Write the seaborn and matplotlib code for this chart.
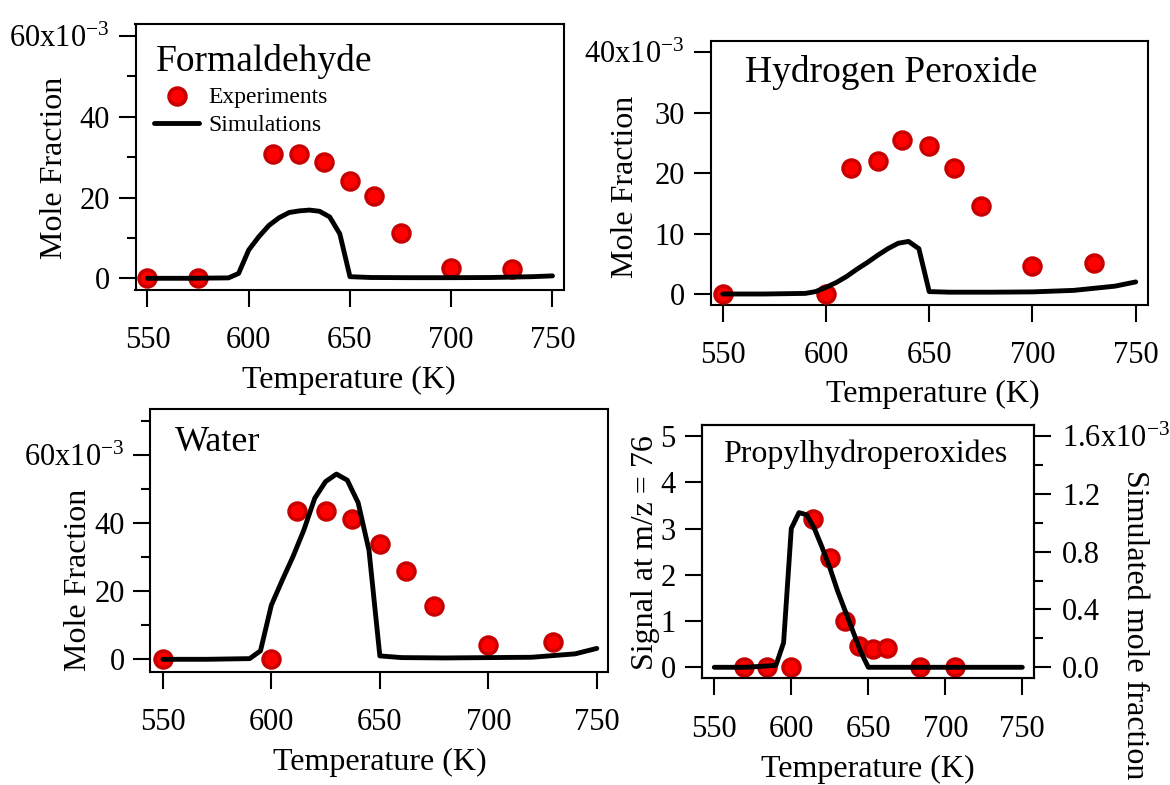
import matplotlib
matplotlib.use("Agg")
import matplotlib.pyplot as plt
from matplotlib.ticker import FixedLocator
import seaborn as sns

# ---------------- data ----------------
T_sim = [550, 570, 590, 595, 600, 605, 610, 615, 620, 625, 630, 635, 640, 645, 650,
         660, 680, 700, 720, 740, 750]
hcho_sim = [0, 0, 0.1, 1.2, 7.0, 10.3, 13.1, 15.0, 16.3, 16.7, 16.9, 16.6, 15.2, 11.0, 0.4,
            0.2, 0.15, 0.15, 0.2, 0.4, 0.6]
h2o2_sim = [0, 0, 0.1, 0.4, 1.1, 1.9, 2.9, 4.1, 5.2, 6.4, 7.5, 8.4, 8.7, 7.5, 0.4,
            0.3, 0.3, 0.35, 0.6, 1.3, 2.0]
h2o_sim = [0, 0, 0.2, 2.5, 15.9, 23.2, 30.2, 38.0, 47.3, 52.2, 54.4, 52.6, 46.0, 32.0, 1.0,
           0.5, 0.4, 0.5, 0.6, 1.6, 3.2]
php_sim = [0, 0, 0.013, 0.17, 0.96, 1.07, 1.055, 0.96, 0.83, 0.69, 0.53, 0.39, 0.25, 0.11, 0,
           0, 0, 0, 0, 0, 0]

T_hcho = [550, 575, 612, 625, 637, 650, 662, 675, 700, 730]
hcho_exp = [0, 0, 30.8, 30.9, 28.7, 24.1, 20.5, 11.2, 2.5, 2.2]
T_h2o2 = [550, 600, 612, 625, 637, 650, 662, 675, 700, 730]
h2o2_exp = [0, 0, 20.8, 22.0, 25.5, 24.5, 20.8, 14.6, 4.6, 5.2]
T_h2o = [550, 600, 612, 625, 637, 650, 662, 675, 700, 730]
h2o_exp = [0, 0, 43.6, 43.6, 41.1, 33.8, 26.0, 15.7, 4.1, 5.1]
T_php = [569, 584.5, 600, 614, 625, 635, 644, 653, 662, 683.5, 706.5]
php_exp = [0, 0, 0, 3.2, 2.37, 1.01, 0.46, 0.39, 0.41, 0, 0]

titles = ["Formaldehyde", "Hydrogen Peroxide", "Water", "Propylhydroperoxides"]
x_ticks = [550, 600, 650, 700, 750]
x_ticklabels = ["550", "600", "650", "700", "750"]
y1_ticks = [0, 20, 40, 60]
y1_labels = ["0", "20", "40", r"60x10$^{\mathregular{-3}}$"]
y1_minor = [10, 30, 50]
y2_ticks = [0, 10, 20, 30, 40]
y2_labels = ["0", "10", "20", "30", r"40x10$^{\mathregular{-3}}$"]
y3_ticks = [0, 20, 40, 60]
y3_labels = ["0", "20", "40", r"60x10$^{\mathregular{-3}}$"]
y3_minor = [10, 30, 50, 70]
y4_ticks = [0, 1, 2, 3, 4, 5]
y4_labels = ["0", "1", "2", "3", "4", "5"]
y4r_ticks = [0.0, 0.4, 0.8, 1.2, 1.6]
y4r_labels = ["0.0", "0.4", "0.8", "1.2", r"1.6x10$^{\mathregular{-3}}$"]
y4r_minor = [0.2, 0.6, 1.0, 1.4]

# ---------------- style ----------------
sns.set_style("ticks")
plt.rcParams["font.family"] = ["Liberation Serif", "DejaVu Serif"]
plt.rcParams["mathtext.fontset"] = "custom"
plt.rcParams["mathtext.rm"] = "Liberation Serif"
plt.rcParams["mathtext.it"] = "Liberation Serif:italic"
plt.rcParams["axes.linewidth"] = 1.5
for k in ["text.color", "axes.labelcolor", "xtick.color", "ytick.color", "axes.edgecolor",
          "xtick.labelcolor", "ytick.labelcolor"]:
    plt.rcParams[k] = "black"

W, H = 1170, 785
fig = plt.figure(figsize=(W / 100, H / 100), dpi=100)


def fx(px):
    return px / W


def fy(py):
    return 1 - py / H


def rect(l, r, t, b):
    return [fx(l), fy(b), (r - l) / W, (b - t) / H]


RED = "#FF0000"
EDGE = "#C80000"
MS = 150
TICK_FS = 22
LAB_FS = 23


def style_axis(ax, xlim, ylim, yt, ylab, yminor=None):
    ax.set_xlim(*xlim)
    ax.set_ylim(*ylim)
    ax.set_xticks(x_ticks)
    ax.set_xticklabels(x_ticklabels)
    ax.set_yticks(yt)
    ax.set_yticklabels(ylab)
    if yminor:
        ax.yaxis.set_minor_locator(FixedLocator(yminor))
    ax.tick_params(axis="both", which="major", direction="out", length=12.2, width=1.5,
                   labelsize=TICK_FS, color="black", labelcolor="black")
    ax.tick_params(axis="y", which="major", pad=6.5)
    ax.tick_params(axis="x", which="major", pad=14)
    ax.tick_params(axis="y", which="minor", direction="out", length=6.5, width=1.5,
                   color="black")
    ax.tick_params(top=False, right=False)
    for s in ax.spines.values():
        s.set_visible(True)
        s.set_linewidth(1.5)
        s.set_color("black")


def draw(ax, T_e, v_e, v_s, lab=False):
    sns.scatterplot(x=T_e, y=v_e, ax=ax, s=MS, color=RED, edgecolor=EDGE, linewidth=2.5,
                    zorder=3, label="Experiments" if lab else None, legend=False)
    sns.lineplot(x=T_sim, y=v_s, ax=ax, color="black", linewidth=3.5, zorder=4,
                 solid_capstyle="round", label="Simulations" if lab else None, legend=False)


def set_labels(ax, xl_center, xl_base, yl_base, yl_center, ylabel):
    ax.set_xlabel("Temperature (K)", fontsize=LAB_FS, va="baseline", ha="center",
                  color="black")
    ax.xaxis.set_label_coords(fx(xl_center), fy(xl_base), transform=fig.transFigure)
    ax.set_ylabel(ylabel, fontsize=LAB_FS, va="baseline", ha="center", color="black")
    ax.yaxis.set_label_coords(fx(yl_base), fy(yl_center), transform=fig.transFigure)


# ---- Panel 1: Formaldehyde
ax1 = fig.add_axes(rect(135.5, 564.4, 24, 290))
draw(ax1, T_hcho, hcho_exp, hcho_sim, lab=True)
style_axis(ax1, (544.1, 755.9), (-2.9, 63.0), y1_ticks, y1_labels, y1_minor)
set_labels(ax1, 349, 388.3, 62.1, 167.5, "Mole Fraction")
fig.text(fx(156.2), fy(71), titles[0], fontsize=27, ha="left", va="baseline", color="black")
h, l = ax1.get_legend_handles_labels()
leg = ax1.legend(h, l, loc="upper left", bbox_to_anchor=(fx(154.3), fy(86)),
                 bbox_transform=fig.transFigure, frameon=False, borderpad=0, borderaxespad=0,
                 handlelength=1.9, handletextpad=0.4, labelspacing=0.3, fontsize=17)
for t in leg.get_texts():
    t.set_color("black")

# ---- Panel 2: Hydrogen Peroxide
ax2 = fig.add_axes(rect(710.5, 1147.9, 40.7, 305))
draw(ax2, T_h2o2, h2o2_exp, h2o2_sim)
style_axis(ax2, (544.1, 755.9), (-1.82, 41.92), y2_ticks, y2_labels)
set_labels(ax2, 932.5, 401.7, 633.3, 186.7, "Mole Fraction")
fig.text(fx(745.4), fy(81.7), titles[1], fontsize=27, ha="left", va="baseline", color="black")

# ---- Panel 3: Water
ax3 = fig.add_axes(rect(150.5, 608.3, 409.3, 671.7))
draw(ax3, T_h2o, h2o_exp, h2o_sim)
style_axis(ax3, (544.3, 755.3), (-3.64, 73.42), y3_ticks, y3_labels, y3_minor)
set_labels(ax3, 380, 770, 86.5, 580, "Mole Fraction")
fig.text(fx(175), fy(451), titles[2], fontsize=26, ha="left", va="baseline", color="black")

# ---- Panel 4: Propylhydroperoxides
ax4 = fig.add_axes(rect(701.5, 1034, 425, 678.3))
sns.scatterplot(x=T_php, y=php_exp, ax=ax4, s=MS, color=RED, edgecolor=EDGE, linewidth=2.5,
                zorder=3, legend=False)
style_axis(ax4, (541.7, 757.6), (-0.238, 5.238), y4_ticks, y4_labels)
set_labels(ax4, 868, 776.7, 653.3, 552.5, "Signal at m/z = 76")
ax4r = ax4.twinx()
sns.lineplot(x=T_sim, y=php_sim, ax=ax4r, color="black", linewidth=3.5, zorder=4,
             solid_capstyle="round", legend=False)
ax4r.set_xlim(541.7, 757.6)
ax4r.set_ylim(-0.238 * 0.32, 5.238 * 0.32)
ax4r.set_yticks(y4r_ticks)
ax4r.set_yticklabels(y4r_labels)
ax4r.yaxis.set_minor_locator(FixedLocator(y4r_minor))
ax4r.tick_params(axis="y", which="major", direction="out", length=12.2, width=1.5,
                 labelsize=TICK_FS, pad=8, right=True, left=False, color="black",
                 labelcolor="black")
ax4r.tick_params(axis="y", which="minor", direction="out", length=6.5, width=1.5,
                 right=True, left=False, color="black")
ax4r.set_ylabel("Simulated mole fraction", fontsize=LAB_FS, rotation=270,
                va="baseline", ha="center", color="black")
ax4r.yaxis.set_label_coords(fx(1127), fy(625), transform=fig.transFigure)
for s in ax4r.spines.values():
    s.set_linewidth(1.5)
    s.set_color("black")
fig.text(fx(723.2), fy(461.7), titles[3], fontsize=23, ha="left", va="baseline", color="black")

fig.savefig("out.png", dpi=100)
